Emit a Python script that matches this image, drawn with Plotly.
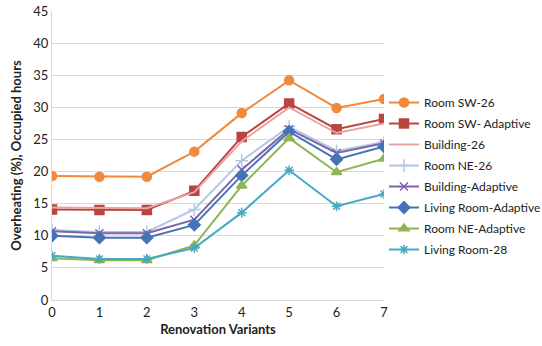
import plotly.graph_objects as go

variants = [0, 1, 2, 3, 4, 5, 6, 7]
room_sw_26 = [19.3, 19.2, 19.2, 23.1, 29.1, 34.2, 29.9, 31.3]
room_sw_adaptive = [14.1, 14.0, 14.0, 17.0, 25.4, 30.6, 26.6, 28.2]
building_26 = [14.4, 14.3, 14.3, 16.8, 24.7, 30.0, 26.0, 27.5]
room_ne_26 = [10.9, 10.6, 10.6, 14.1, 21.7, 27.0, 23.2, 24.6]
building_adaptive = [10.7, 10.4, 10.4, 12.5, 20.3, 26.6, 22.9, 24.4]
living_room_adaptive = [10.0, 9.7, 9.7, 11.7, 19.4, 26.2, 21.9, 23.9]
room_ne_adaptive = [6.5, 6.2, 6.2, 8.5, 17.8, 25.2, 19.9, 22.0]
living_room_28 = [6.9, 6.4, 6.4, 8.1, 13.6, 20.2, 14.6, 16.5]

series = [
    ("Room SW-26", room_sw_26, "#F0893B", "circle", 9),
    ("Room SW- Adaptive", room_sw_adaptive, "#B94442", "square", 9),
    ("Building-26", building_26, "#E9A3A2", None, 0),
    ("Room NE-26", room_ne_26, "#B3C6E6", "cross-thin-open", 9),
    ("Building-Adaptive", building_adaptive, "#7F63A8", "x-thin-open", 8),
    ("Living Room-Adaptive", living_room_adaptive, "#4474B8", "diamond", 9),
    ("Room NE-Adaptive", room_ne_adaptive, "#8DB552", "triangle-up", 9),
    ("Living Room-28", living_room_28, "#45A9C4", "asterisk-open", 8),
]

font = "Lato, 'Open Sans', sans-serif"
fig = go.Figure()
for i, (name, vals, color, sym, size) in enumerate(series):
    mode = "lines+markers" if sym else "lines"
    marker = dict(color=color, symbol=sym, size=size, line=dict(color=color, width=1.5)) if sym else None
    fig.add_trace(go.Scatter(x=variants, y=vals, name=name, mode=mode, legendgroup=f"g{i}",
                             line=dict(color=color, width=2), marker=marker))

fig.update_layout(
    width=542, height=346,
    margin=dict(l=52, r=158, t=11, b=46, autoexpand=False),
    paper_bgcolor="white", plot_bgcolor="white",
    font=dict(family=font, size=13, color="#222"),
    showlegend=True,
    legend=dict(x=1.0, y=0.429, xanchor="left", yanchor="middle",
                font=dict(size=12, color="#222"), tracegroupgap=2,
                itemwidth=30, bgcolor="rgba(0,0,0,0)"),
    xaxis=dict(range=[0, 7], tickvals=variants, showgrid=False, zeroline=False,
               showline=True, linecolor="#D9D9D9", linewidth=1, automargin=False,
               ticks="", tickfont=dict(size=13),
               title=dict(text="<b>Renovation Variants</b>", font=dict(size=13), standoff=6)),
    yaxis=dict(range=[0, 45], dtick=5, showgrid=True, gridcolor="#D9D9D9", gridwidth=1,
               zeroline=False, showline=True, linecolor="#D9D9D9", linewidth=1, automargin=False,
               ticks="", tickfont=dict(size=13),
               title=dict(text="<b>Overheating (%), Occupied hours</b>", font=dict(size=13), standoff=8)),
)
fig.write_html("out.html", config={"displayModeBar": False},
               post_script="document.body.style.margin='0';")
